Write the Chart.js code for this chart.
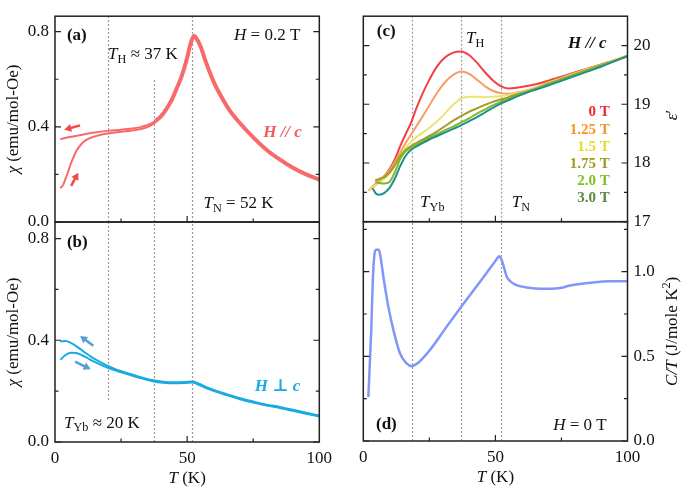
<!DOCTYPE html>
<html><head><meta charset="utf-8">
<script src="https://cdn.jsdelivr.net/npm/chart.js@4.4.0/dist/chart.umd.min.js"></script>
<style>
html,body{margin:0;padding:0;background:#fff;}
#wrap{position:relative;width:685px;height:490px;overflow:hidden;}
#wrap canvas{position:absolute;left:0;top:0;}
</style></head><body>
<div id="wrap">
<canvas id="pa" width="685" height="490"></canvas>
<canvas id="pb" width="685" height="490"></canvas>
<canvas id="pc" width="685" height="490"></canvas>
<canvas id="pd" width="685" height="490"></canvas>
</div>
<script>
// ---------------- data ----------------
const xTickVals = [0, 25, 50, 75, 100];
const xTickLabels = {0: '0', 50: '50', 100: '100'};
const chiTickVals = [0, 0.2, 0.4, 0.6, 0.8];
const chiTickLabels = {0: '0.0', 0.4: '0.4', 0.8: '0.8'};
const epsTickVals = [17, 17.5, 18, 18.5, 19, 19.5, 20];
const epsTickLabels = {17: '17', 18: '18', 19: '19', 20: '20'};
const ctTickVals = [0, 0.25, 0.5, 0.75, 1.0, 1.25];
const ctTickLabels = {0: '0.0', 0.5: '0.5', 1: '1.0'};

// (a) chi, H // c
const T_a_FC   = [2,5,10,15,20,25,30,33,36,38,40,42,44,46,48,50,51,52,52.6,53.5,55,57,60,63,66,70,75,80,85,90,95,100];
const chi_a_FC = [0.348,0.356,0.366,0.376,0.383,0.388,0.394,0.401,0.412,0.425,0.443,0.472,0.51,0.56,0.615,0.69,0.738,0.772,0.783,0.772,0.74,0.675,0.59,0.525,0.47,0.415,0.356,0.304,0.263,0.228,0.2,0.178];
const T_a_ZFC   = [2,3,4,5,6,7,8,10,12,14,17,20,25,30,33,36,38,40];
const chi_a_ZFC = [0.142,0.155,0.182,0.213,0.245,0.272,0.297,0.328,0.346,0.356,0.366,0.372,0.379,0.386,0.392,0.404,0.419,0.44];

// (b) chi, H perp c
const T_b_FC   = [2,4,6,8,10,12,14,17,20,24,28,32,37,41,45,49,52,54,57,60,65,70,75,80,85,90,95,100];
const chi_b_FC = [0.395,0.397,0.39,0.377,0.362,0.347,0.333,0.315,0.299,0.281,0.267,0.254,0.241,0.235,0.233,0.234,0.236,0.229,0.215,0.203,0.186,0.17,0.157,0.145,0.136,0.125,0.113,0.102];
const T_b_ZFC   = [2,4,6,8,10,12,14,17,20,23,26];
const chi_b_ZFC = [0.323,0.342,0.351,0.35,0.342,0.332,0.32,0.305,0.292,0.281,0.272];

// (c) dielectric constant
const T_c     = [2,4,6,8,10,12,14,16,18,20,22,25,28,31,34,37,40,43,46,49,52,55,58,62,66,70,75,80,85,90,95,100];
const eps_0T  = [17.53,17.6,17.68,17.78,17.9,18.07,18.29,18.49,18.68,18.92,19.14,19.42,19.65,19.8,19.88,19.9,19.84,19.71,19.55,19.41,19.31,19.27,19.28,19.31,19.35,19.4,19.47,19.54,19.61,19.68,19.75,19.83];
const eps_125T= [17.53,17.62,17.7,17.78,17.88,18.02,18.18,18.34,18.48,18.62,18.76,18.98,19.2,19.38,19.5,19.56,19.52,19.42,19.31,19.23,19.19,19.18,19.2,19.24,19.3,19.37,19.45,19.53,19.6,19.67,19.75,19.83];
const eps_15T = [17.53,17.6,17.66,17.73,17.82,17.96,18.12,18.26,18.36,18.44,18.5,18.6,18.71,18.85,18.99,19.1,19.13,19.13,19.12,19.13,19.14,19.16,19.19,19.23,19.29,19.36,19.44,19.52,19.6,19.67,19.75,19.83];
const T_c_hi  = [4.5,6,8,10,12,14,16,18,20,22,25,28,31,34,37,40,43,46,49,52,55,58,62,66,70,75,80,85,90,95,100];
const eps_175T= [17.7,17.73,17.76,17.84,17.97,18.12,18.22,18.29,18.34,18.39,18.46,18.54,18.63,18.72,18.8,18.87,18.93,18.99,19.04,19.08,19.12,19.17,19.22,19.28,19.35,19.43,19.51,19.59,19.66,19.74,19.82];
const eps_2T  = [17.67,17.66,17.65,17.68,17.85,18.07,18.2,18.26,18.31,18.36,18.43,18.49,18.56,18.62,18.69,18.76,18.84,18.91,18.98,19.04,19.09,19.15,19.21,19.27,19.34,19.42,19.5,19.58,19.66,19.74,19.82];
const T_c_3   = [3.5,5,6,8,10,12,14,16,18,20,22,25,28,31,34,37,40,43,46,49,52,55,58,62,66,70,75,80,85,90,95,100];
const eps_3T  = [17.57,17.47,17.46,17.49,17.58,17.74,17.95,18.12,18.22,18.28,18.33,18.4,18.46,18.52,18.58,18.64,18.71,18.78,18.86,18.94,19.01,19.07,19.13,19.2,19.26,19.32,19.4,19.48,19.56,19.64,19.73,19.82];
const fieldLabels = ['0 T', '1.25 T', '1.5 T', '1.75 T', '2.0 T', '3.0 T'];

// (d) specific heat
const T_d  = [1.9,3.0,3.6,4.2,4.8,5.9,6.5,7.6,9.5,11.4,13.9,16.4,18.3,20.8,25.2,31.5,37,44.2,49.8,51.5,52.2,52.9,54.3,56.8,61.8,69.4,75.7,77,85.8,93.4,100];
const ct_d = [0.26,0.65,0.95,1.1,1.13,1.13,1.09,0.97,0.792,0.655,0.517,0.458,0.442,0.462,0.537,0.674,0.792,0.94,1.058,1.091,1.075,1.045,0.97,0.93,0.907,0.899,0.907,0.914,0.934,0.944,0.944];

// ---------------- drawing helpers ----------------
const FONT = '"Liberation Serif", "Times New Roman", "DejaVu Serif", serif';
const W = 685, H = 490;

function drawRich(c, runs, x, y, align, size, color, rot) {
  const parts = runs.map(r => {
    const base = r.size || size;
    const fs = (r.sub || r.sup) ? base * 0.72 : base;
    const f = (r.i ? 'italic ' : '') + (r.b ? 'bold ' : '') + fs + 'px ' + FONT;
    c.font = f;
    return {r, f, w: c.measureText(r.t).width, base};
  });
  const total = parts.reduce((s, p) => s + p.w, 0);
  c.save();
  c.translate(x, y);
  if (rot) c.rotate(rot);
  let cx = align === 'right' ? -total : align === 'center' ? -total / 2 : 0;
  c.textBaseline = 'middle';
  c.textAlign = 'left';
  parts.forEach(p => {
    c.font = p.f;
    c.fillStyle = p.r.c || color || '#111';
    const dy = p.r.sub ? p.base * 0.3 : p.r.sup ? -p.base * 0.35 : 0;
    c.fillText(p.r.t, cx, dy);
    cx += p.w;
  });
  c.restore();
}

function arrow(c, x0, y0, x1, y1, color) {
  const ang = Math.atan2(y1 - y0, x1 - x0), hl = 7, hw = 4;
  c.save();
  c.strokeStyle = color; c.fillStyle = color; c.lineWidth = 2.5; c.lineCap = 'butt';
  c.beginPath(); c.moveTo(x0, y0);
  c.lineTo(x1 - Math.cos(ang) * hl * 0.8, y1 - Math.sin(ang) * hl * 0.8); c.stroke();
  c.beginPath();
  c.moveTo(x1, y1);
  c.lineTo(x1 - Math.cos(ang) * hl - Math.sin(ang) * hw, y1 - Math.sin(ang) * hl + Math.cos(ang) * hw);
  c.lineTo(x1 - Math.cos(ang) * hl + Math.sin(ang) * hw, y1 - Math.sin(ang) * hl - Math.cos(ang) * hw);
  c.closePath(); c.fill();
  c.restore();
}

function makePanel(id, cfg) {
  const A = cfg.area;
  const yRight = cfg.yPos === 'right';
  const deco = {
    id: 'deco_' + id,
    beforeDatasetsDraw(chart) {
      const c = chart.ctx, a = chart.chartArea, xs = chart.scales.x, ys = chart.scales.y;
      c.save();
      c.strokeStyle = '#9a9a9a'; c.lineWidth = 1.2; c.setLineDash([2, 2]);
      cfg.vlines.forEach(v => {
        const px = Math.round(xs.getPixelForValue(v.x)) + 0.5;
        const y0 = v.y0 == null ? a.bottom : ys.getPixelForValue(v.y0);
        const y1 = v.y1 == null ? a.top : ys.getPixelForValue(v.y1);
        c.beginPath(); c.moveTo(px, y0); c.lineTo(px, y1); c.stroke();
      });
      c.restore();
    },
    afterDatasetsDraw(chart) {
      const c = chart.ctx, a = chart.chartArea, xs = chart.scales.x, ys = chart.scales.y;
      (cfg.arrows || []).forEach(r => arrow(c, xs.getPixelForValue(r[0]), ys.getPixelForValue(r[1]),
        xs.getPixelForValue(r[2]), ys.getPixelForValue(r[3]), r[4]));
      c.save();
      c.strokeStyle = '#222'; c.lineWidth = 1.2;
      c.beginPath();
      xTickVals.forEach(v => {
        if (v === 0 || v === 100) return;
        const p = xs.getPixelForValue(v), len = xTickLabels[v] ? 6 : 3.5;
        c.moveTo(p, a.bottom); c.lineTo(p, a.bottom - len);
      });
      cfg.yTicks.forEach(v => {
        const p = ys.getPixelForValue(v), len = cfg.yLabels[v] ? 6 : 3.5;
        c.moveTo(a.left, p); c.lineTo(a.left + len, p);
        c.moveTo(a.right, p); c.lineTo(a.right - len, p);
      });
      c.stroke();
      c.lineWidth = 1.5;
      c.strokeRect(a.left, a.top, a.right - a.left, a.bottom - a.top);
      c.restore();
      (cfg.texts || []).forEach(t => drawRich(c, t.runs, xs.getPixelForValue(t.x), ys.getPixelForValue(t.y), t.align, t.size || 17, t.color));
      if (cfg.xTitle) drawRich(c, cfg.xTitle, (a.left + a.right) / 2, a.bottom + 37, 'center', 17);
      if (cfg.yTitle) {
        const xx = yRight ? a.right + 45 : a.left - 41;
        drawRich(c, cfg.yTitle, xx, (a.top + a.bottom) / 2 + (cfg.yTitleShift || 0), 'center', 17, '#111', -Math.PI / 2);
      }
    }
  };
  return new Chart(document.getElementById(id).getContext('2d'), {
    type: 'line',
    data: {
      datasets: cfg.datasets.map(d => ({
        data: d.x.map((t, i) => ({x: t, y: d.y[i]})),
        borderColor: d.color, borderWidth: d.width, pointRadius: 0, fill: false,
        cubicInterpolationMode: 'monotone', tension: 0.4,
        segment: d.segment || {}
      }))
    },
    options: {
      responsive: false, animation: false, devicePixelRatio: 1,
      events: [],
      layout: {padding: {left: yRight ? A.L : 0, right: yRight ? 0 : W - A.R, top: A.T, bottom: 0}},
      plugins: {legend: {display: false}, tooltip: {enabled: false}},
      scales: {
        x: {
          type: 'linear', position: 'bottom', min: 0, max: 100,
          grid: {display: false, drawTicks: false}, border: {display: false},
          afterBuildTicks: s => { s.ticks = xTickVals.map(v => ({value: v})); },
          afterFit: s => { s.height = H - A.B; },
          ticks: {display: !!cfg.showX, autoSkip: false, maxRotation: 0, padding: 6, color: '#111',
                  font: {family: FONT, size: 17}, callback: v => xTickLabels[v] || ''}
        },
        y: {
          type: 'linear', position: cfg.yPos, min: cfg.yMin, max: cfg.yMax,
          grid: {display: false, drawTicks: false}, border: {display: false},
          afterBuildTicks: s => { s.ticks = cfg.yTicks.map(v => ({value: v})); },
          afterFit: s => { s.width = yRight ? W - A.R : A.L; },
          ticks: {display: cfg.showY !== false, autoSkip: false, padding: 6, color: '#111',
                  font: {family: FONT, size: 17}, callback: v => cfg.yLabels[v] || ''}
        }
      }
    },
    plugins: [deco]
  });
}

const RED = '#F86A6A', BLUE = '#1AAAE2';
const chiTitle = [{t: 'χ', i: true}, {t: ' (emu/mol-Oe)'}];
const TTitle = [{t: 'T', i: true}, {t: ' (K)'}];

makePanel('pa', {
  area: {L: 55, T: 1.7, R: 319.3, B: 222}, yPos: 'left', yMin: 0, yMax: 0.865,
  yTicks: chiTickVals, yLabels: chiTickLabels, showX: false, yTitle: chiTitle,
  vlines: [{x: 20}, {x: 37.5, y1: 0.605}, {x: 52}],
  datasets: [
    {x: T_a_ZFC, y: chi_a_ZFC, color: RED, width: 2},
    {x: T_a_FC, y: chi_a_FC, color: RED, width: 2,
     segment: {borderWidth: ctx => ctx.p0.parsed.x >= 38 ? 4 : 2}}
  ],
  arrows: [[9.5, 0.406, 3.5, 0.388, '#F24848'], [6.1, 0.152, 8.8, 0.207, '#F24848']],
  texts: [
    {runs: [{t: '(a)', b: true}], x: 4.5, y: 0.783, align: 'left'},
    {runs: [{t: 'H', i: true}, {t: ' = 0.2 T'}], x: 92.8, y: 0.783, align: 'right'},
    {runs: [{t: 'T', i: true}, {t: 'H', sub: true}, {t: ' ≈ 37 K'}], x: 20.1, y: 0.703, align: 'left'},
    {runs: [{t: 'H // c', i: true, b: true, c: '#F55A5C'}], x: 93.4, y: 0.375, align: 'right'},
    {runs: [{t: 'T', i: true}, {t: 'N', sub: true}, {t: ' = 52 K'}], x: 56.2, y: 0.079, align: 'left'}
  ]
});

makePanel('pb', {
  area: {L: 55, T: 222, R: 319.3, B: 442}, yPos: 'left', yMin: 0, yMax: 0.865,
  yTicks: chiTickVals, yLabels: chiTickLabels, showX: true, yTitle: chiTitle, xTitle: TTitle,
  vlines: [{x: 20, y0: 0.165}, {x: 37.5}, {x: 52}],
  datasets: [
    {x: T_b_ZFC, y: chi_b_ZFC, color: BLUE, width: 2},
    {x: T_b_FC, y: chi_b_FC, color: BLUE, width: 2,
     segment: {borderWidth: ctx => ctx.p0.parsed.x >= 24 ? 3 : 2}}
  ],
  arrows: [[14.5, 0.378, 9.5, 0.417, '#5C9BD6'], [7.6, 0.316, 13.5, 0.286, '#5C9BD6']],
  texts: [
    {runs: [{t: '(b)', b: true}], x: 4.5, y: 0.783, align: 'left'},
    {runs: [{t: 'H ⊥ c', i: true, b: true, c: BLUE}], x: 92.8, y: 0.218, align: 'right'},
    {runs: [{t: 'T', i: true}, {t: 'Yb', sub: true}, {t: ' ≈ 20 K'}], x: 3.4, y: 0.074, align: 'left'}
  ]
});

const fieldColors = ['#EE2A2E', '#F7941D', '#E6DC2A', '#A09A1E', '#7CC21E', '#5A8A3A'];
const fieldY = [18.868, 18.562, 18.27, 17.98, 17.688, 17.397];
makePanel('pc', {
  area: {L: 363.3, T: 1.5, R: 627.5, B: 221.7}, yPos: 'right', yMin: 17, yMax: 20.5,
  yTicks: epsTickVals, yLabels: epsTickLabels, showX: false,
  yTitle: [{t: 'ε', i: true}, {t: '′'}], yTitleShift: -4,
  vlines: [{x: 18.5}, {x: 37}, {x: 52}],
  datasets: [
    {x: T_c_3, y: eps_3T, color: '#1E8E8E', width: 2},
    {x: T_c_hi, y: eps_2T, color: '#7DB92A', width: 2},
    {x: T_c_hi, y: eps_175T, color: '#A39C24', width: 2},
    {x: T_c, y: eps_15T, color: '#EDE372', width: 2},
    {x: T_c, y: eps_125T, color: '#F3A066', width: 2},
    {x: T_c, y: eps_0T, color: '#F04045', width: 2}
  ],
  texts: [
    {runs: [{t: '(c)', b: true}], x: 5.1, y: 20.23, align: 'left'},
    {runs: [{t: 'T', i: true}, {t: 'H', sub: true}], x: 38.9, y: 20.12, align: 'left'},
    {runs: [{t: 'H // c', i: true, b: true}], x: 92.1, y: 20.04, align: 'right'},
    {runs: [{t: 'T', i: true}, {t: 'Yb', sub: true}], x: 21.5, y: 17.32, align: 'left'},
    {runs: [{t: 'T', i: true}, {t: 'N', sub: true}], x: 56.2, y: 17.32, align: 'left'}
  ].concat(fieldLabels.map((s, i) => ({runs: [{t: s, b: true, c: fieldColors[i]}], x: 93.3, y: fieldY[i], align: 'right', size: 15})))
});

makePanel('pd', {
  area: {L: 363.3, T: 221.7, R: 627.5, B: 441}, yPos: 'right', yMin: 0, yMax: 1.295,
  yTicks: ctTickVals, yLabels: ctTickLabels, showX: true, xTitle: TTitle,
  yTitle: [{t: 'C/T', i: true}, {t: ' (J/mole K'}, {t: '2', sup: true}, {t: ')'}],
  vlines: [{x: 18.5}, {x: 37}, {x: 52}],
  datasets: [{x: T_d, y: ct_d, color: '#8296F8', width: 2.5}],
  texts: [
    {runs: [{t: '(d)', b: true}], x: 4.8, y: 0.094, align: 'left'},
    {runs: [{t: 'H', i: true}, {t: ' = 0 T'}], x: 92.1, y: 0.094, align: 'right'}
  ]
});
</script>
</body></html>
